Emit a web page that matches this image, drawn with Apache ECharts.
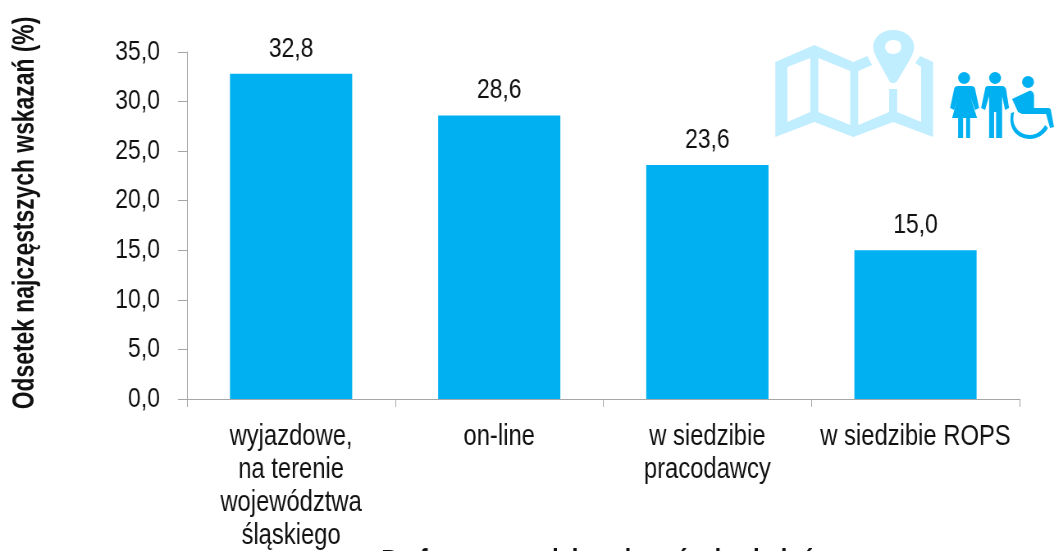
<!DOCTYPE html>
<html>
<head>
<meta charset="utf-8">
<style>
html,body{margin:0;padding:0;background:#fff;overflow:hidden;width:1054px;height:551px}
/* no narrow font installed, so the whole chart is drawn wide and squeezed to 1054px */
#chart{width:1285px;height:551px;transform:scaleX(0.82023);transform-origin:0 0}
</style>
<script src="https://cdn.jsdelivr.net/npm/echarts@6/dist/echarts.min.js"></script>
</head>
<body>
<div id="chart"></div>
<script>
var categories = ['wyjazdowe,\nna terenie\nwojew\u00f3dztwa\n\u015bl\u0105skiego', 'on-line', 'w siedzibie\npracodawcy', 'w siedzibie ROPS'];
var values = [32.8, 28.6, 23.6, 15.0];
var yTitle = 'Odsetek najcz\u0119stszych wskaza\u0144 (%)';
// cut off by the bottom edge in the reference, wording is a best guess
var xTitle = 'Preferowane miejsce kurs\u00f3w i szkole\u0144';

var fontName = '"Liberation Sans", Arial, sans-serif';
var barColor = '#00B0F0';
var paleColor = '#C1EEFF';
var axisColor = '#A6A6A6';
var textColor = '#111';

function comma(v) { return v.toFixed(1).replace('.', ','); }

// icons, drawn in page pixels inside a 294x130 box starting at (760,20)
var iconSvg = '<svg xmlns="http://www.w3.org/2000/svg" width="358" height="130" viewBox="760 20 294 130" preserveAspectRatio="none">' +
  '<path fill-rule="evenodd" fill="' + paleColor + '" d="M775 62 L814 45 L853 62 L867 56 L872 65 L858 71 L858 125 L889 112 L889 89 L897 89 L897 112 L921 122 L921 67 L915 63 L920 56 L933 62 L933 137 L893 122 L853 137 L814 122 L775 137 Z M787 67 L787 122 L810 112 L810 58 Z M818 58 L818 112 L850 125 L850 71 Z"/>' +
  '<path fill-rule="evenodd" fill="' + paleColor + '" d="M893 30 C882 30 873 37 873 47 C873 51 875 55 877 59 L889 81 C891 84 895 84 897 81 L910 59 C912 55 914 51 914 47 C914 37 904 30 893 30 Z M893 40 C899 40 901 43 901 47 C901 51 898 54 893 54 C888 54 885 51 885 47 C885 43 888 40 893 40 Z"/>' +
  '<g fill="' + barColor + '">' +
  '<ellipse cx="964" cy="78" rx="6" ry="6"/>' +
  '<path d="M958 86 L971 86 C973 86 975 87 975 89 L979 108 L975 110 L970 96 L977 118 L970 118 L970 138 L966 138 L966 118 L963 118 L963 138 L958 138 L958 118 L952 118 L958 96 L954 110 L950 108 L954 89 C954 87 956 86 958 86 Z"/>' +
  '<ellipse cx="995" cy="78" rx="6" ry="6"/>' +
  '<path d="M988 86 L1002 86 C1004 86 1005 87 1006 89 L1009 108 L1005 110 L1002 96 L1002 138 L996 138 L996 112 L994 112 L994 138 L989 138 L989 96 L985 110 L981 108 L985 89 C985 87 986 86 988 86 Z"/>' +
  '<ellipse cx="1028" cy="82" rx="6" ry="6"/>' +
  '<path d="M1012 99 L1029 91 C1032 90 1034 93 1034 96 L1034 108 L1048 108 C1050 108 1051 109 1051 111 L1054 127 L1050 128 L1046 114 L1022 114 L1018 112 Z"/>' +
  '<path d="M1011 113 L1014 112 C1013 118 1013 122 1015 126 C1018 132 1024 135 1030 135 C1036 135 1042 131 1045 125 L1048 128 C1044 135 1037 139 1030 139 C1022 139 1015 135 1012 128 C1010 123 1010 118 1011 113 Z"/>' +
  '</g></svg>';

var chart = echarts.init(document.getElementById('chart'), null, { renderer: 'canvas' });

chart.setOption({
  backgroundColor: '#fff',
  animation: false,
  grid: { left: 228, right: 42, top: 52, bottom: 152, outerBoundsMode: 'none' },
  xAxis: {
    type: 'category',
    data: categories,
    axisLine: { lineStyle: { color: axisColor, width: 1 } },
    axisTick: { show: true, length: 8, lineStyle: { color: axisColor } },
    axisLabel: { color: textColor, fontFamily: fontName, fontSize: 29, lineHeight: 33, margin: 21, interval: 0 }
  },
  yAxis: {
    type: 'value',
    min: 0,
    max: 35,
    interval: 5,
    splitLine: { show: false },
    axisLine: { show: true, lineStyle: { color: axisColor, width: 1 } },
    axisTick: { show: true, length: 11, lineStyle: { color: axisColor } },
    axisLabel: { color: textColor, fontFamily: fontName, fontSize: 28, margin: 33, padding: [4, 0, 0, 0], formatter: function (v) { return comma(v); } }
  },
  series: [{
    type: 'bar',
    data: values,
    barWidth: 149,
    itemStyle: { color: barColor },
    label: {
      show: true,
      position: 'top',
      distance: 11,
      color: textColor,
      fontFamily: fontName,
      fontSize: 28,
      formatter: function (p) { return comma(p.value); }
    }
  }],
  graphic: [
    { type: 'text', rotation: Math.PI / 2, x: 31, y: 213, scaleX: 0.635,
      style: { text: yTitle, font: 'bold 36px ' + fontName, fill: textColor, align: 'center', verticalAlign: 'middle' } },
    { type: 'text', x: 465, y: 547,
      style: { text: xTitle, font: 'bold 29px ' + fontName, fill: textColor, align: 'left', verticalAlign: 'top' } },
    { type: 'image', x: 927, y: 20,
      style: { image: 'data:image/svg+xml;charset=utf-8,' + encodeURIComponent(iconSvg), width: 358, height: 130 } }
  ]
});

window.addEventListener('resize', function () { chart.resize(); });
</script>
</body>
</html>
